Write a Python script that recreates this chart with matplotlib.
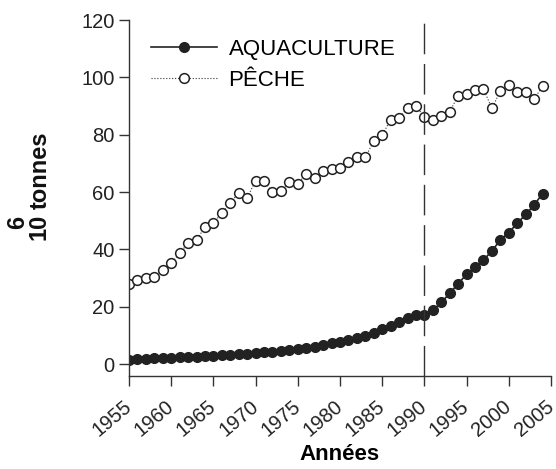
import numpy as np
import matplotlib.pyplot as plt
from matplotlib.transforms import ScaledTranslation

plt.rcParams['font.family'] = ['Liberation Sans', 'DejaVu Sans']

years = list(range(1955, 2005))

aquaculture = [1.6, 1.8, 1.9, 2.0, 2.1, 2.2, 2.4, 2.5, 2.6, 2.8,
               2.9, 3.1, 3.2, 3.4, 3.6, 3.8, 4.1, 4.3, 4.6, 5.0,
               5.3, 5.7, 6.1, 6.6, 7.2, 7.8, 8.4, 9.2, 9.9, 10.9,
               12.4, 13.4, 14.8, 16.2, 17.1, 17.3, 18.8, 21.5, 24.7, 28.1,
               31.3, 33.9, 36.3, 39.5, 43.3, 45.9, 49.1, 52.2, 55.5, 59.5]

peche = [27.9, 29.5, 29.9, 30.5, 32.8, 35.1, 38.8, 42.1, 43.2, 47.9,
         49.1, 52.8, 56.3, 59.8, 58.0, 64.0, 64.0, 59.9, 60.3, 63.7,
         63.0, 66.3, 65.1, 67.4, 67.9, 68.5, 70.6, 72.3, 72.1, 77.8,
         79.9, 85.3, 85.9, 89.4, 90.0, 86.3, 85.1, 86.6, 88.0, 93.7,
         94.2, 95.6, 96.0, 89.2, 95.3, 97.3, 94.9, 94.9, 92.4, 97.0]

xticks = list(range(1955, 2006, 5))
yticks = [0, 20, 40, 60, 80, 100, 120]

fig = plt.figure(figsize=(5.56, 4.69), dpi=100)
ax = fig.add_axes([0.232, 0.198, 0.759, 0.759])

ax.plot(years, aquaculture, '-o', color='#222222', lw=1.2, ms=7,
        mfc='#222222', mec='#222222', label='AQUACULTURE')
ax.plot(years, peche, ':o', color='#333333', lw=0.8, ms=7,
        mfc='white', mec='#222222', mew=1.1, label='PÊCHE')

ax.axvline(1990, color='#333333', lw=1.0, dashes=(22, 7))

ax.set_xlim(1955, 2005)
ax.set_ylim(-4.2, 120)
ax.set_xticks(xticks)
ax.set_yticks(yticks)
ax.set_xticklabels([str(t) for t in xticks], rotation=40, ha='right',
                   rotation_mode='anchor')
ax.tick_params(direction='out', length=7, width=1, labelsize=14.5,
               color='#333333', labelcolor='#222222')
ax.tick_params(axis='x', pad=8)
shift = ScaledTranslation(-6 / 100, 0, fig.dpi_scale_trans)
for lab in ax.get_xticklabels():
    lab.set_transform(lab.get_transform() + shift)

for s in ['top', 'right']:
    ax.spines[s].set_visible(False)
for s in ['left', 'bottom']:
    ax.spines[s].set_color('#333333')
    ax.spines[s].set_linewidth(1)

ax.set_xlabel('Années', fontsize=16, fontweight='bold', labelpad=3)

# y label: "10" with a full-size raised "6", then "tonnes"
lab_kw = dict(rotation=90, fontsize=17, fontweight='bold', color='#111111',
              ha='center', va='center')
fig.text(39 / 556, 1 - 227 / 469, '10', **lab_kw)
fig.text(18 / 556, 1 - 222 / 469, '6', **lab_kw)
fig.text(40 / 556, 1 - 170 / 469, 'tonnes', **lab_kw)

ax.legend(loc='upper left', bbox_to_anchor=(0.02, 0.985), frameon=False,
          fontsize=16, handlelength=3, handletextpad=0.5, labelspacing=0.45,
          borderaxespad=0.2)

fig.savefig('out.png', dpi=100)
